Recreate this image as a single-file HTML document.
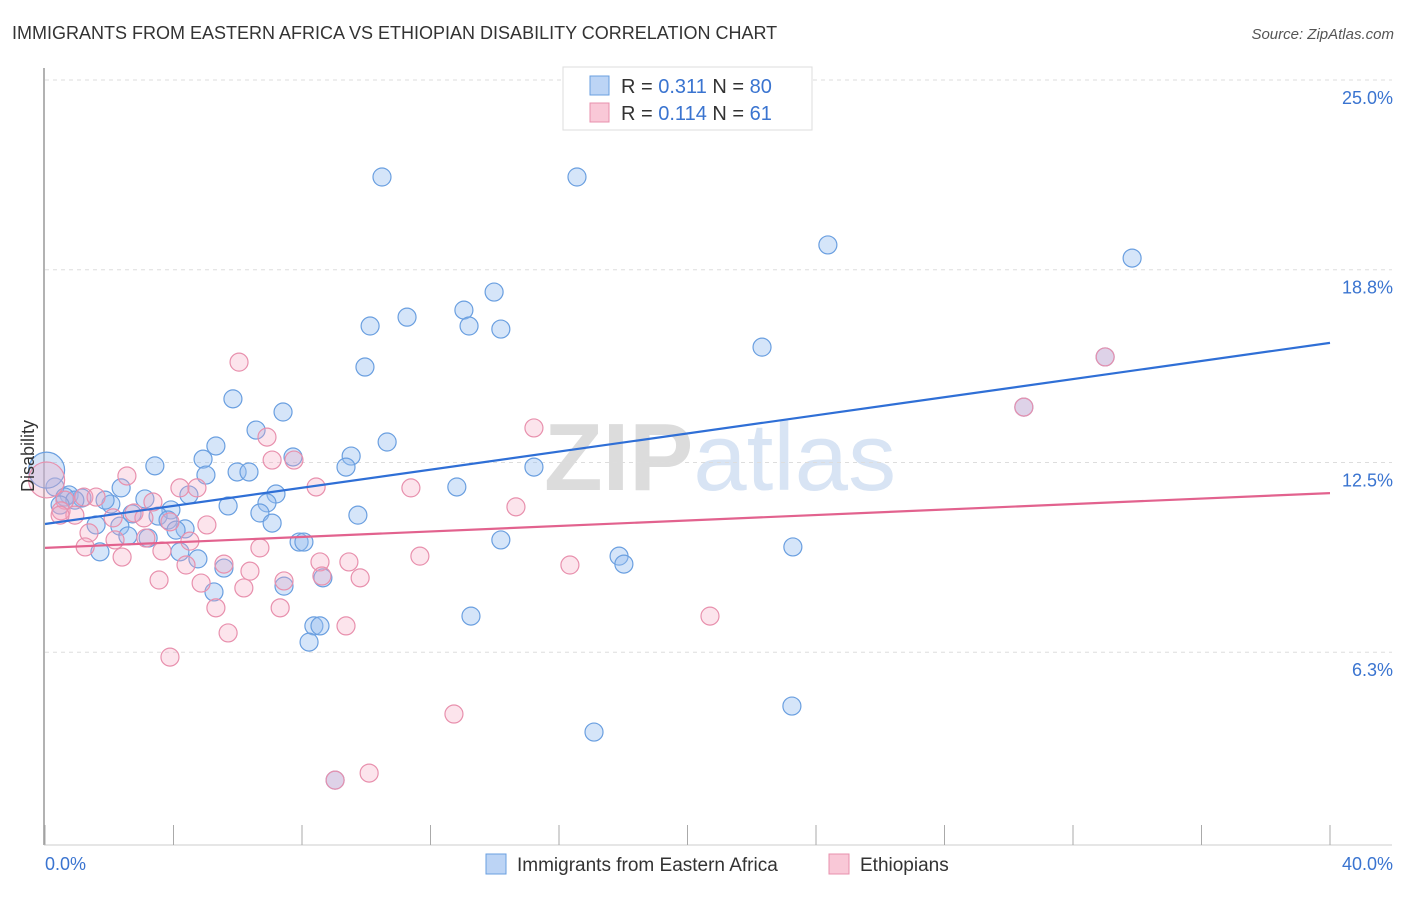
<!DOCTYPE html>
<html><head><meta charset="utf-8"><style>
body{margin:0;background:#fff;font-family:"Liberation Sans",sans-serif}
svg text{font-family:"Liberation Sans",sans-serif}
</style></head><body>
<svg id="chart" width="1406" height="892" xmlns="http://www.w3.org/2000/svg">
<text x="12" y="39" font-size="18" fill="#333">IMMIGRANTS FROM EASTERN AFRICA VS ETHIOPIAN DISABILITY CORRELATION CHART</text>
<text x="1394" y="39" font-size="15" fill="#555" text-anchor="end" font-style="italic">Source: ZipAtlas.com</text>
<text x="720" y="490" font-size="96" text-anchor="middle" fill="#e8e8e8" font-family="Liberation Serif"><tspan font-weight="bold" fill="#dcdcdc">ZIP</tspan><tspan fill="#d8e4f4" font-family="Liberation Sans">atlas</tspan></text>
<g id="grid"></g><g id="axes"></g><g id="pts"></g><g id="lines"></g>
<text transform="translate(34,456) rotate(-90)" font-size="18" fill="#333" text-anchor="middle">Disability</text>
<g>
<rect x="563" y="67" width="249" height="63" fill="#fff" stroke="#ddd"/>
<rect x="590" y="76" width="19" height="19" fill="#bcd4f5" stroke="#6a9fe0"/>
<text x="621" y="93" font-size="20" fill="#333">R = <tspan fill="#3a74d0">0.311</tspan>   N = <tspan fill="#3a74d0">80</tspan></text>
<rect x="590" y="103" width="19" height="19" fill="#f9c8d7" stroke="#e890ad"/>
<text x="621" y="120" font-size="20" fill="#333">R = <tspan fill="#3a74d0">0.114</tspan>   N =  <tspan fill="#3a74d0">61</tspan></text>
</g>
<g>
<rect x="486" y="854" width="20" height="20" fill="#bcd4f5" stroke="#6a9fe0"/>
<text x="517" y="871" font-size="19" fill="#333">Immigrants from Eastern Africa</text>
<rect x="829" y="854" width="20" height="20" fill="#f9c8d7" stroke="#e890ad"/>
<text x="860" y="871" font-size="19" fill="#333">Ethiopians</text>
</g>
</svg>
<script>
const blueX=[10.49,16.56,24.37,33.84,13.98,11.27,13.04,10.12,13.20,14.19,22.32,9.96,5.85,7.41,6.57,10.65,5.32,7.72,9.53,4.92,3.42,9.37,15.22,5.98,6.35,5.01,12.82,2.37,7.19,4.48,0.75,1.15,3.11,2.05,6.91,5.70,3.92,6.69,9.74,2.71,3.52,3.83,7.07,2.33,1.59,4.36,4.08,2.58,3.21,7.91,8.06,14.19,23.28,4.20,1.71,17.87,4.76,18.02,5.57,8.65,7.44,5.26,13.26,8.37,8.56,8.22,23.25,17.09,9.03,30.47,33.00,0.31,0.62,0.93,1.87,0.47,0.05];
const blueY=[21.83,21.83,19.61,19.18,18.07,17.25,17.48,16.96,16.96,16.86,16.27,15.62,14.58,14.15,13.56,13.17,13.04,12.68,12.71,12.61,12.39,12.35,12.35,12.19,12.19,12.09,11.70,11.67,11.47,11.44,11.44,11.34,11.31,11.14,11.18,11.08,10.95,10.85,10.78,10.82,10.75,10.62,10.52,10.42,10.46,10.33,10.29,10.10,10.03,9.90,9.90,9.97,9.74,9.58,9.58,9.44,9.35,9.18,9.05,8.73,8.46,8.27,7.48,7.16,7.16,6.63,4.54,3.69,2.12,14.31,15.95,11.70,11.37,11.27,11.27,11.11,12.25];
const pinkX=[6.04,15.22,6.91,7.75,7.07,2.55,4.20,8.44,11.39,4.73,1.21,0.62,1.59,3.36,14.66,0.50,0.93,2.12,2.77,3.08,3.89,5.04,1.37,3.14,4.51,2.18,1.25,6.69,3.64,2.40,11.67,5.57,8.56,9.46,4.39,16.34,6.38,8.62,9.81,7.44,3.55,4.86,6.19,5.32,7.32,20.70,9.37,5.70,3.89,12.73,10.09,9.03,30.47,33.00,0.47,0.05];
const pinkY=[15.78,13.63,13.33,12.58,12.58,12.06,11.67,11.70,11.67,11.67,11.37,11.27,11.37,11.21,11.05,10.92,10.78,10.69,10.85,10.69,10.56,10.46,10.20,10.03,9.93,9.97,9.74,9.71,9.61,9.41,9.44,9.18,9.25,9.25,9.15,9.15,8.95,8.79,8.73,8.63,8.66,8.56,8.40,7.75,7.75,7.48,7.16,6.93,6.14,4.28,2.35,2.12,14.31,15.95,10.78,11.93];
const yTicks=[25.0,18.8,12.5,6.3];
const yTickLabels=["25.0%","18.8%","12.5%","6.3%"];
const trendBlue=[10.49,16.41];
const trendPink=[9.71,11.50];
const NS="http://www.w3.org/2000/svg";
const sx=v=>45+v*32.125, sy=v=>845-v*30.6;
function mk(t,a,p){const e=document.createElementNS(NS,t);for(const k in a)e.setAttribute(k,a[k]);p.appendChild(e);return e;}
const grid=document.getElementById('grid'),axes=document.getElementById('axes'),pts=document.getElementById('pts'),lines=document.getElementById('lines');
yTicks.forEach((v,i)=>{
 const l=mk('line',{x1:45,x2:1392,y1:sy(v),y2:sy(v),stroke:'#ddd','stroke-dasharray':'4,4'},grid);
 
 
 const t=mk('text',{x:1393,y:sy(v)+24,'font-size':18,fill:'#3a74d0','text-anchor':'end'},grid);
 t.textContent=yTickLabels[i];
 
 
});
const ax=mk('line',{x1:44,x2:44,y1:68,y2:845,stroke:'#999','stroke-width':1.5},axes);


const bx=mk('line',{x1:44,x2:1392,y1:845,y2:845,stroke:'#ccc'},axes);


for(let i=0;i<=10;i++){const t=mk('line',{x1:sx(i*4),x2:sx(i*4),y1:825,y2:845,stroke:'#aaa'},axes);
 
 }
[["0.0%",45,'start'],["40.0%",1393,'end']].forEach(d=>{const t=mk('text',{x:d[1],y:870,'font-size':18,fill:'#3a74d0','text-anchor':d[2]},axes);t.textContent=d[0];
 
 });
function dots(X,Y,fill,stroke,name){X.forEach((x,i)=>{const big=x<0.1;const c=mk('circle',{cx:sx(x),cy:sy(Y[i]),r:big?18:9,fill:fill,stroke:stroke,'stroke-width':1.2},pts);
 
 });}
dots(blueX,blueY,'rgba(150,190,240,0.4)','#6a9fe0','point-eastern-africa');
dots(pinkX,pinkY,'rgba(245,165,192,0.3)','#e890ad','point-ethiopians');
const lb=mk('line',{x1:sx(0),y1:sy(trendBlue[0]),x2:sx(40),y2:sy(trendBlue[1]),stroke:'#2f6fd6','stroke-width':2.2},lines);


const lp=mk('line',{x1:sx(0),y1:sy(trendPink[0]),x2:sx(40),y2:sy(trendPink[1]),stroke:'#e2628e','stroke-width':2.2},lines);


</script>
</body></html>
